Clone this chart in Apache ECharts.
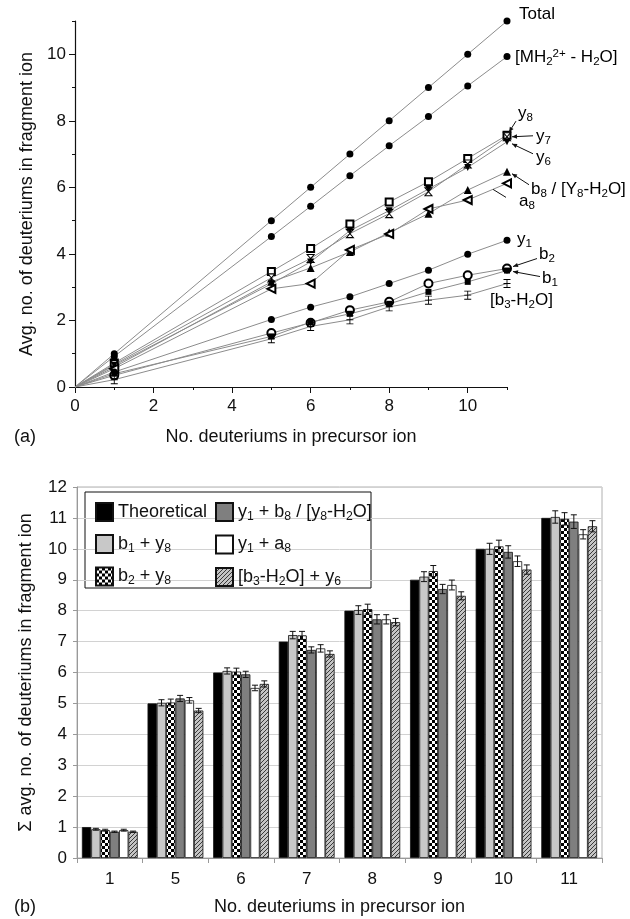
<!DOCTYPE html>
<html>
<head>
<meta charset="utf-8">
<script src="https://cdn.jsdelivr.net/npm/echarts@6/dist/echarts.min.js"></script>
<style>
  html, body { margin: 0; padding: 0; background: #fff; }
  #main { width: 630px; height: 919px; }
</style>
</head>
<body>
<div id="main"></div>
<script>
// ---- panel (a): avg. deuteriums per fragment vs precursor ----
const precursorD = [0, 1, 5, 6, 7, 8, 9, 10, 11];
const totalD = [0, 1.00, 5.00, 6.00, 7.00, 8.00, 9.00, 10.00, 11.00];
const mhD    = [0, 0.92, 4.52, 5.43, 6.35, 7.25, 8.13, 9.05, 9.93];
const y8D    = [0, 0.72, 3.47, 4.16, 4.90, 5.56, 6.17, 6.87, 7.57];
const y7D    = [0, 0.68, 3.28, 3.86, 4.61, 5.21, 5.87, 6.70, 7.52];
const y6D    = [0, 0.65, 3.10, 3.76, 4.70, 5.30, 5.95, 6.60, 7.37];
const b8D    = [0, 0.60, 3.16, 3.58, 4.06, 4.64, 5.21, 5.92, 6.47];
const a8D    = [0, 0.55, 2.95, 3.11, 4.12, 4.60, 5.35, 5.62, 6.12];
const y1D    = [0, 0.45, 2.03, 2.40, 2.71, 3.11, 3.51, 3.99, 4.41];
const b2D    = [0, 0.35, 1.62, 1.93, 2.31, 2.56, 3.11, 3.36, 3.56];
const b1D    = [0, 0.40, 1.52, 1.95, 2.20, 2.50, 2.86, 3.16, 3.50];
const b3D    = [0, 0.22, 1.45, 1.82, 2.02, 2.41, 2.61, 2.76, 3.11];

// ---- panel (b): summed deuteriums ----
const categories  = ['1', '5', '6', '7', '8', '9', '10', '11'];
const theoretical = [1, 5, 6, 7, 8, 9, 10, 11];
const b1y8   = [0.93, 5.02, 6.05, 7.21, 8.02, 9.10, 10.00, 11.03];
const b2y8   = [0.90, 5.03, 6.03, 7.20, 8.05, 9.28, 10.08, 10.97];
const y1b8   = [0.85, 5.16, 5.94, 6.73, 7.72, 8.70, 9.90, 10.88];
const y1a8   = [0.90, 5.10, 5.50, 6.78, 7.72, 8.83, 9.60, 10.47];
const b3y6   = [0.85, 4.77, 5.63, 6.60, 7.63, 8.48, 9.33, 10.73];
const b1y8Err = [0.03, 0.10, 0.10, 0.12, 0.14, 0.16, 0.18, 0.20];
const b2y8Err = [0.03, 0.11, 0.11, 0.13, 0.16, 0.18, 0.20, 0.20];
const y1b8Err = [0.02, 0.10, 0.10, 0.10, 0.15, 0.15, 0.20, 0.22];
const y1a8Err = [0.03, 0.09, 0.09, 0.12, 0.15, 0.16, 0.17, 0.15];
const b3y6Err = [0.02, 0.07, 0.10, 0.10, 0.12, 0.13, 0.15, 0.18];

const FONT = 'Liberation Sans, Arial, sans-serif';

// "y_8" -> rich text with subscript, "^{2+}" -> superscript
function rt(s) {
  return '{n|' + s.replace(/_(\w)/g, '}{s|$1}{n|').replace(/\^\{([^}]*)\}/g, '}{p|$1}{n|') + '}';
}
function richStyle(size) {
  return {
    n: { fontSize: size, fontFamily: FONT, color: '#111' },
    s: { fontSize: size * 0.68, fontFamily: FONT, color: '#111', padding: [size * 0.5, 0, 0, 0] },
    p: { fontSize: size * 0.68, fontFamily: FONT, color: '#111', padding: [0, 0, size * 0.5, 0] }
  };
}

// fill patterns
function checker() {
  const c = document.createElement('canvas');
  c.width = c.height = 6;
  const g = c.getContext('2d');
  g.fillStyle = '#fff'; g.fillRect(0, 0, 6, 6);
  g.fillStyle = '#000'; g.fillRect(0, 0, 3, 3); g.fillRect(3, 3, 3, 3);
  return c;
}
function hatch() {
  const c = document.createElement('canvas');
  c.width = c.height = 4;
  const g = c.getContext('2d');
  g.fillStyle = '#c4c4c4'; g.fillRect(0, 0, 4, 4);
  g.strokeStyle = '#3a3a3a'; g.lineWidth = 1;
  g.beginPath(); g.moveTo(0, 4); g.lineTo(4, 0); g.moveTo(-1, 1); g.lineTo(1, -1); g.moveTo(3, 5); g.lineTo(5, 3); g.stroke();
  return c;
}

const hourglass = 'path://M0,0L10,0L0,10L10,10Z';
const ibeam = 'path://M0,0H8V1H4.5V4.5H8V5.5H4.5V9H8V10H0V9H3.5V5.5H0V4.5H3.5V1H0Z';

function lineSeries(name, vals, symbol, opts) {
  return Object.assign({
    name: name,
    type: 'line',
    xAxisIndex: 0, yAxisIndex: 0,
    data: vals.map((v, i) => i === 0 ? { value: [precursorD[i], v], symbol: 'none' } : [precursorD[i], v]),
    symbol: symbol,
    symbolSize: 7,
    lineStyle: { color: '#8c8c8c', width: 1 },
    itemStyle: { color: '#000' },
    emphasis: { disabled: true },
    z: 3
  }, opts || {});
}

const barSpecs = [
  { name: 'Theoretical', label: 'Theoretical', vals: theoretical, err: null, color: '#000' },
  { name: 'b1y8', label: 'b_1 + y_8', vals: b1y8, err: b1y8Err, color: '#c8c8c8' },
  { name: 'b2y8', label: 'b_2 + y_8', vals: b2y8, err: b2y8Err, color: { image: checker(), repeat: 'repeat' } },
  { name: 'y1b8', label: 'y_1 + b_8 / [y_8-H_2O]', vals: y1b8, err: y1b8Err, color: '#7f7f7f' },
  { name: 'y1a8', label: 'y_1 + a_8', vals: y1a8, err: y1a8Err, color: '#fff' },
  { name: 'b3y6', label: '[b_3-H_2O] + y_6', vals: b3y6, err: b3y6Err, color: { image: hatch(), repeat: 'repeat' } }
];
const labelOf = {};
barSpecs.forEach(s => { labelOf[s.name] = s.label; });

const BAR_GROUP = 0.85;
const errRows = [];
barSpecs.forEach((s, k) => {
  if (!s.err) return;
  s.vals.forEach((v, i) => errRows.push([i, v, s.err[i], k]));
});

const chart = echarts.init(document.getElementById('main'), null, { renderer: 'canvas' });

const axisLbl = { fontFamily: FONT, fontSize: 17, color: '#111' };

const option = {
  animation: false,
  textStyle: { fontFamily: FONT },
  grid: [
    { left: 75, right: 123, top: 21, bottom: 532 },
    { left: 77, right: 28, top: 487, bottom: 61, show: true, borderColor: '#b0b0b0', borderWidth: 1 }
  ],
  xAxis: [
    {
      gridIndex: 0, type: 'value', min: 0, max: 11, interval: 1,
      name: 'No. deuteriums in precursor ion', nameLocation: 'middle', nameGap: 41,
      nameTextStyle: { fontFamily: FONT, fontSize: 18, color: '#111' },
      axisLine: { lineStyle: { color: '#111', width: 1.2 } },
      axisTick: { length: 6, lineStyle: { color: '#111' }, customValues: [0, 2, 4, 6, 8, 10] },
      axisLabel: Object.assign({ margin: 11, customValues: [0, 2, 4, 6, 8, 10] }, axisLbl),
      splitLine: { show: false }
    },
    {
      gridIndex: 0, type: 'value', min: 0, max: 11, interval: 1, position: 'bottom',
      axisLine: { show: false },
      axisTick: { length: 3, lineStyle: { color: '#111' }, customValues: [1, 3, 5, 7, 9, 11] },
      axisLabel: { show: false }, splitLine: { show: false }
    },
    {
      gridIndex: 1, type: 'category', data: categories,
      name: 'No. deuteriums in precursor ion', nameLocation: 'middle', nameGap: 40,
      nameTextStyle: { fontFamily: FONT, fontSize: 18, color: '#111' },
      axisLine: { lineStyle: { color: '#999' } },
      axisTick: { show: true, length: 5, lineStyle: { color: '#999' } },
      axisLabel: Object.assign({ margin: 13 }, axisLbl)
    }
  ],
  yAxis: [
    {
      gridIndex: 0, type: 'value', min: 0, max: 11, interval: 1,
      name: 'Avg. no. of deuteriums in fragment ion', nameLocation: 'middle', nameGap: 38, nameRotate: 90,
      nameTextStyle: { fontFamily: FONT, fontSize: 18, color: '#111' },
      axisLine: { show: true, lineStyle: { color: '#111', width: 1.2 } },
      axisTick: { show: true, length: 6, lineStyle: { color: '#111' }, customValues: [0, 2, 4, 6, 8, 10] },
      axisLabel: Object.assign({ margin: 9, customValues: [0, 2, 4, 6, 8, 10] }, axisLbl),
      splitLine: { show: false }
    },
    {
      gridIndex: 0, type: 'value', min: 0, max: 11, interval: 1, position: 'left',
      axisLine: { show: false },
      axisTick: { show: true, length: 3, lineStyle: { color: '#111' }, customValues: [1, 3, 5, 7, 9, 11] },
      axisLabel: { show: false }, splitLine: { show: false }
    },
    {
      gridIndex: 1, type: 'value', min: 0, max: 12, interval: 1,
      name: 'Σ avg. no. of deuteriums in fragment ion', nameLocation: 'middle', nameGap: 42, nameRotate: 90,
      nameTextStyle: { fontFamily: FONT, fontSize: 18, color: '#111' },
      axisLine: { show: true, lineStyle: { color: '#999' } },
      axisTick: { show: true, length: 4, lineStyle: { color: '#999' } },
      axisLabel: Object.assign({ margin: 10 }, axisLbl),
      splitLine: { show: true, lineStyle: { color: '#d2d2d2' } }
    }
  ],
  legend: [
    {
      data: ['Theoretical', 'b1y8', 'b2y8'],
      orient: 'vertical', left: 90, top: 497, itemGap: 12, itemWidth: 17, itemHeight: 18, icon: 'rect',
      formatter: n => rt(labelOf[n]), textStyle: { rich: richStyle(18) }, selectedMode: false
    },
    {
      data: ['y1b8', 'y1a8', 'b3y6'],
      orient: 'vertical', left: 210, top: 497, itemGap: 12, itemWidth: 17, itemHeight: 18, icon: 'rect',
      formatter: n => rt(labelOf[n]), textStyle: { rich: richStyle(18) }, selectedMode: false
    }
  ],
  series: [
    lineSeries('Total', totalD, 'circle'),
    lineSeries('MH', mhD, 'circle'),
    lineSeries('y8', y8D, 'emptyRect', { symbolSize: 7 }),
    lineSeries('y7', y7D, hourglass, { symbolSize: [7, 8], itemStyle: { color: '#fff', borderColor: '#000', borderWidth: 1 } }),
    lineSeries('y6', y6D, 'triangle', { symbolRotate: 180 }),
    lineSeries('b8', b8D, 'triangle', { symbolSize: 8 }),
    lineSeries('a8', a8D, 'emptyTriangle', { symbolRotate: 90, symbolSize: 8 }),
    lineSeries('y1', y1D, 'circle'),
    lineSeries('b2', b2D, 'emptyCircle', { symbolSize: 8 }),
    lineSeries('b1', b1D, 'rect', { symbolSize: 6 }),
    lineSeries('b3', b3D, ibeam, { symbolSize: [7, 9] })
  ].concat(barSpecs.map(s => ({
    name: s.name,
    type: 'bar',
    xAxisIndex: 2, yAxisIndex: 2,
    data: s.vals,
    barGap: '0%',
    barCategoryGap: ((1 - BAR_GROUP) * 100) + '%',
    itemStyle: { color: s.color, borderColor: '#111', borderWidth: 0.8 },
    emphasis: { disabled: true }
  }))).concat([{
    type: 'custom',
    xAxisIndex: 2, yAxisIndex: 2,
    data: errRows,
    encode: { x: 0, y: 1 },
    z: 10,
    silent: true,
    renderItem: function (params, api) {
      const cat = api.value(0), v = api.value(1), e = api.value(2), k = api.value(3);
      const band = api.size([1, 0])[0];
      const groupW = band * BAR_GROUP;
      const bw = groupW / barSpecs.length;
      const c = api.coord([cat, v]);
      const x = c[0] - groupW / 2 + bw * (k + 0.5);
      const top = api.coord([cat, v + e])[1];
      const bot = api.coord([cat, v - e])[1];
      const st = { stroke: '#111', lineWidth: 1 };
      return {
        type: 'group',
        children: [
          { type: 'line', shape: { x1: x, y1: top, x2: x, y2: bot }, style: st },
          { type: 'line', shape: { x1: x - 3, y1: top, x2: x + 3, y2: top }, style: st },
          { type: 'line', shape: { x1: x - 3, y1: bot, x2: x + 3, y2: bot }, style: st }
        ]
      };
    }
  }])
};

chart.setOption(option);

// ---- annotations for panel (a), anchored at each series' last point ----
const notes = [
  { vals: totalD, text: 'Total', dx: 12, dy: -7 },
  { vals: mhD, text: '[MH_2^{2+} - H_2O]', dx: 8, dy: 1 },
  { vals: y8D, text: 'y_8', dx: 11, dy: -22, arrow: [9, -14, 2, -3] },
  { vals: y7D, text: 'y_7', dx: 29, dy: 0, arrow: [26, -1, 5, 0] },
  { vals: y6D, text: 'y_6', dx: 29, dy: 16, arrow: [26, 12, 5, 2] },
  { vals: b8D, text: 'b_8 / [Y_8-H_2O]', dx: 24, dy: 18, arrow: [22, 13, 5, 2] },
  { vals: a8D, text: 'a_8', dx: 12, dy: 18, line: [-1, 14, -14, 6] },
  { vals: y1D, text: 'y_1', dx: 10, dy: -1 },
  { vals: b2D, text: 'b_2', dx: 32, dy: -14, arrow: [30, -10, 6, -2] },
  { vals: b1D, text: 'b_1', dx: 35, dy: 8, arrow: [33, 6, 6, 1] },
  { vals: b3D, text: '[b_3-H_2O]', dx: -17, dy: 17 }
];

const gfx = [];
function arrowTo(x1, y1, x2, y2, head) {
  gfx.push({ type: 'line', shape: { x1: x1, y1: y1, x2: x2, y2: y2 }, style: { stroke: '#111', lineWidth: 1 }, z: 20 });
  if (!head) return;
  const a = Math.atan2(y2 - y1, x2 - x1), L = 5, W = 2.2;
  const bx = x2 - L * Math.cos(a), by = y2 - L * Math.sin(a);
  gfx.push({
    type: 'polygon', z: 20,
    shape: { points: [[x2, y2], [bx + W * Math.sin(a), by - W * Math.cos(a)], [bx - W * Math.sin(a), by + W * Math.cos(a)]] },
    style: { fill: '#111' }
  });
}
notes.forEach(n => {
  const last = n.vals.length - 1;
  const p = chart.convertToPixel({ gridIndex: 0 }, [precursorD[last], n.vals[last]]);
  gfx.push({
    type: 'text', z: 20,
    style: { x: p[0] + n.dx, y: p[1] + n.dy, text: rt(n.text), rich: richStyle(17), verticalAlign: 'middle', align: 'left' }
  });
  if (n.arrow) arrowTo(p[0] + n.arrow[0], p[1] + n.arrow[1], p[0] + n.arrow[2], p[1] + n.arrow[3], true);
  if (n.line) arrowTo(p[0] + n.line[0], p[1] + n.line[1], p[0] + n.line[2], p[1] + n.line[3], false);
});

// panel tags and legend frame
gfx.push({ type: 'text', style: { x: 14, y: 437, text: '(a)', font: '18px ' + FONT, fill: '#111', verticalAlign: 'middle' } });
gfx.push({ type: 'text', style: { x: 14, y: 907, text: '(b)', font: '18px ' + FONT, fill: '#111', verticalAlign: 'middle' } });
gfx.push({ type: 'rect', z: -1, shape: { x: 85, y: 492, width: 286, height: 96 }, style: { fill: '#fff', stroke: '#111', lineWidth: 1 } });

chart.setOption({ graphic: gfx });
</script>
</body>
</html>
